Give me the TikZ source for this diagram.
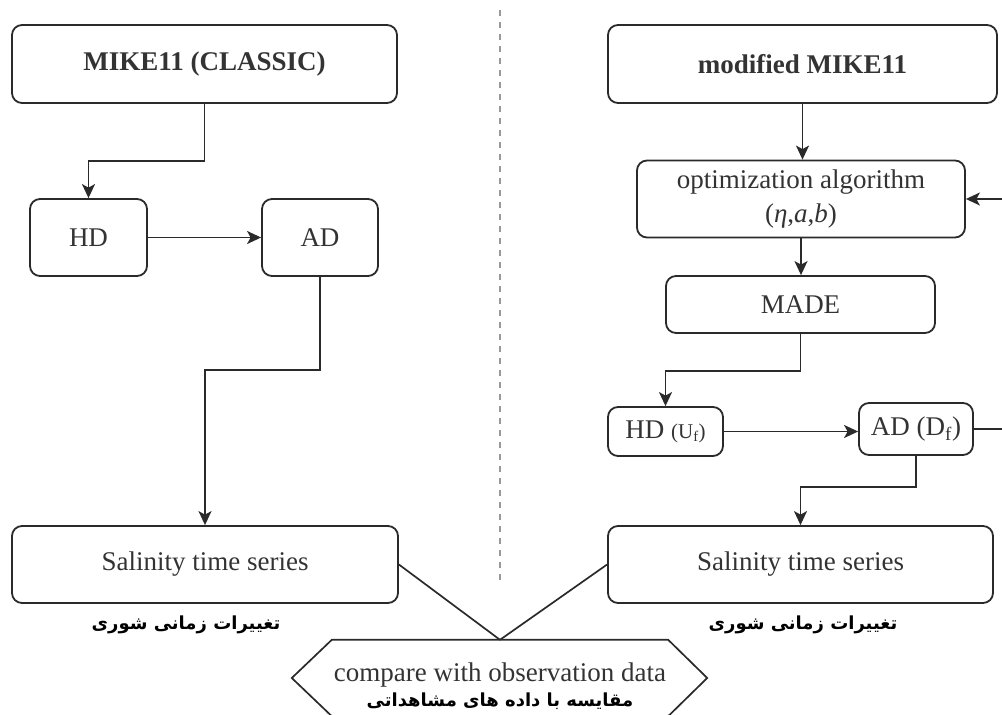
\documentclass[tikz,border=0pt]{standalone}
\usepackage{fontspec}
\setmainfont{Liberation Serif}
\newfontfamily\fafont[Script=Arabic]{DejaVu Sans}
\TeXXeTstate=1
\usetikzlibrary{arrows.meta,calc}
\definecolor{ln}{HTML}{2A2A2A}
\definecolor{tx}{HTML}{333333}
\tikzset{
  box/.style={draw=ln, line width=1.8pt, rounded corners=10pt, inner sep=0pt,
    text=tx, font=\fontsize{27}{34}\selectfont, align=center},
  arr/.style={draw=ln, line width=1.7pt, -{Stealth[length=14pt,width=13pt,inset=3.5pt]}},
  conn/.style={draw=ln, line width=1.7pt},
  fatxt/.style={text=black, font=\fafont\bfseries\fontsize{18}{20}\selectfont, inner sep=0pt},
  entxt/.style={text=tx, font=\fontsize{27}{32}\selectfont, inner sep=0pt}
}
\begin{document}
\begin{tikzpicture}[x=1pt,y=-1pt]
\useasboundingbox (0,0) rectangle (1002,715);
% divider
\draw[draw=gray!80, line width=2pt, dash pattern=on 6pt off 6pt] (500,10) -- (500,585);
% left column
\node[box, minimum width=385, minimum height=78] (mike) at (204.5,64) {\textbf{MIKE11 (CLASSIC)}};
\node[box, minimum width=117, minimum height=77] (hd1) at (88.5,237.5) {HD};
\node[box, minimum width=116, minimum height=77] (ad1) at (320,237.5) {AD};
\node[box, minimum width=386, minimum height=77] (sal1) at (205,564.5) {Salinity time series};
\node[fatxt] (fa1) at (186,625) {\beginR تغییرات زمانی شوری\endR};
% right column
\node[box, minimum width=389, minimum height=78] (mod) at (802.5,64) {\textbf{modified MIKE11}};
\node[box, minimum width=328, minimum height=77] (opt) at (801,199) {optimization algorithm\\(\textit{η},\textit{a},\textit{b})};
\node[box, minimum width=269, minimum height=57] (made) at (800.5,304.5) {MADE};
\node[box, minimum width=115, minimum height=49] (hdf) at (665.5,431.5) {HD {\fontsize{21}{24}\selectfont(U\textsubscript{f})}};
\node[box, minimum width=114, minimum height=52] (adf) at (916,429) {AD (D\textsubscript{f})};
\node[box, minimum width=385, minimum height=77] (sal2) at (800.5,564.5) {Salinity time series};
\node[fatxt] (fa2) at (803,625) {\beginR تغییرات زمانی شوری\endR};
% compare hexagon
\node[minimum width=336, minimum height=76, inner sep=0pt] (cmp) at (500,678) {};
\draw[conn] (cmp.north west) -- (cmp.north east) -- ($(cmp.east)+(39,0)$) -- (cmp.south east)
  -- (cmp.south west) -- ($(cmp.west)+(-40,0)$) -- cycle;
\node[entxt] (cmpen) at (500,675) {compare with observation data};
\node[fatxt] (cmpfa) at (500,701) {\beginR مقایسه با داده های مشاهداتی\endR};
% connectors left
\draw[arr] (mike.south) -- (mike.south |- 0,161) -| (hd1.north);
\draw[arr] (hd1.east) -- (ad1.west);
\draw[arr] (ad1.south) -- (ad1.south |- 0,370) -| (sal1.north);
% connectors right
\draw[arr] (mod.south) -- (mod.south |- opt.north);
\draw[arr] (opt.south) -- (opt.south |- made.north);
\draw[arr] (made.south) -- (made.south |- 0,371) -| (hdf.north);
\draw[arr] (hdf.east) -- (hdf.east -| adf.west);
\draw[arr] (adf.south) -- (adf.south |- 0,487) -| (sal2.north);
\coordinate (loop) at (1014,432);
\draw[arr] (adf.east) -- (adf.east -| loop) |- (opt.east);
% to compare
\draw[conn] (sal1.east) -- (cmp.north);
\draw[conn] (sal2.west) -- (cmp.north);
\end{tikzpicture}
\end{document}
